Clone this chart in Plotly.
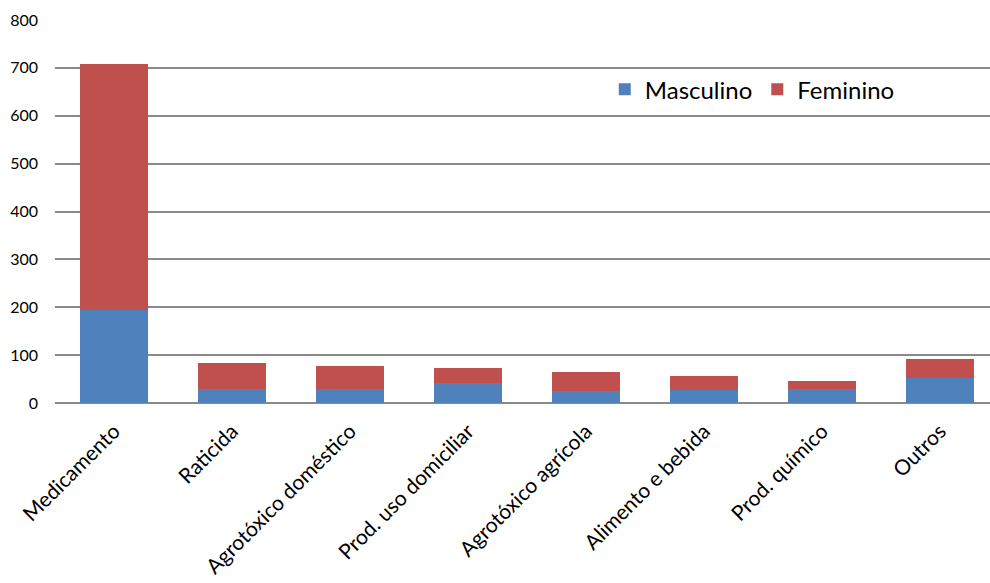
import plotly.graph_objects as go

# Intoxicações por agente tóxico, segundo sexo
categorias = [
    "Medicamento",
    "Raticida",
    "Agrotóxico doméstico",
    "Prod. uso domiciliar",
    "Agrotóxico agrícola",
    "Alimento e bebida",
    "Prod. químico",
    "Outros",
]
masculino = [194, 29, 29, 42, 26, 28, 30, 52]
feminino = [514, 54, 49, 31, 38, 28, 15, 39]

y_ticks = [0, 100, 200, 300, 400, 500, 600, 700, 800]

AZUL = "#4F81BD"
VERMELHO = "#C0504D"
GRADE = "#8A8A8A"
FONTE = "Lato, 'Open Sans', sans-serif"

fig = go.Figure()
fig.add_trace(go.Bar(x=categorias, y=masculino, name="Masculino",
                     marker=dict(color=AZUL, line=dict(width=0))))
fig.add_trace(go.Bar(x=categorias, y=feminino, name="Feminino",
                     marker=dict(color=VERMELHO, line=dict(width=0))))

fig.update_layout(
    barmode="stack",
    bargap=0.43,
    width=990,
    height=583,
    margin=dict(l=55, r=0, t=20, b=180),
    paper_bgcolor="white",
    plot_bgcolor="white",
    font=dict(family=FONTE, color="#000000"),
    showlegend=True,
    legend=dict(
        orientation="h",
        x=0.588, y=0.818,
        xanchor="left", yanchor="middle",
        font=dict(size=24, family=FONTE),
        itemwidth=30,
        bgcolor="rgba(0,0,0,0)",
        traceorder="normal",
    ),
    xaxis=dict(
        range=[-0.5, 7.424],
        tickangle=-45,
        tickfont=dict(size=21),
        ticklabelstandoff=11,
        automargin=False,
        showgrid=False,
        showline=False,
        ticks="",
    ),
    yaxis=dict(
        range=[0, 800],
        tickvals=y_ticks,
        ticktext=[str(v) for v in y_ticks],
        tickfont=dict(size=16),
        ticklabelstandoff=16,
        automargin=False,
        showgrid=True,
        gridcolor=GRADE,
        gridwidth=2,
        zeroline=True,
        zerolinecolor=GRADE,
        zerolinewidth=2,
        showline=False,
        ticks="",
        ticklen=0,
    ),
)

fig.write_html("out.html")
